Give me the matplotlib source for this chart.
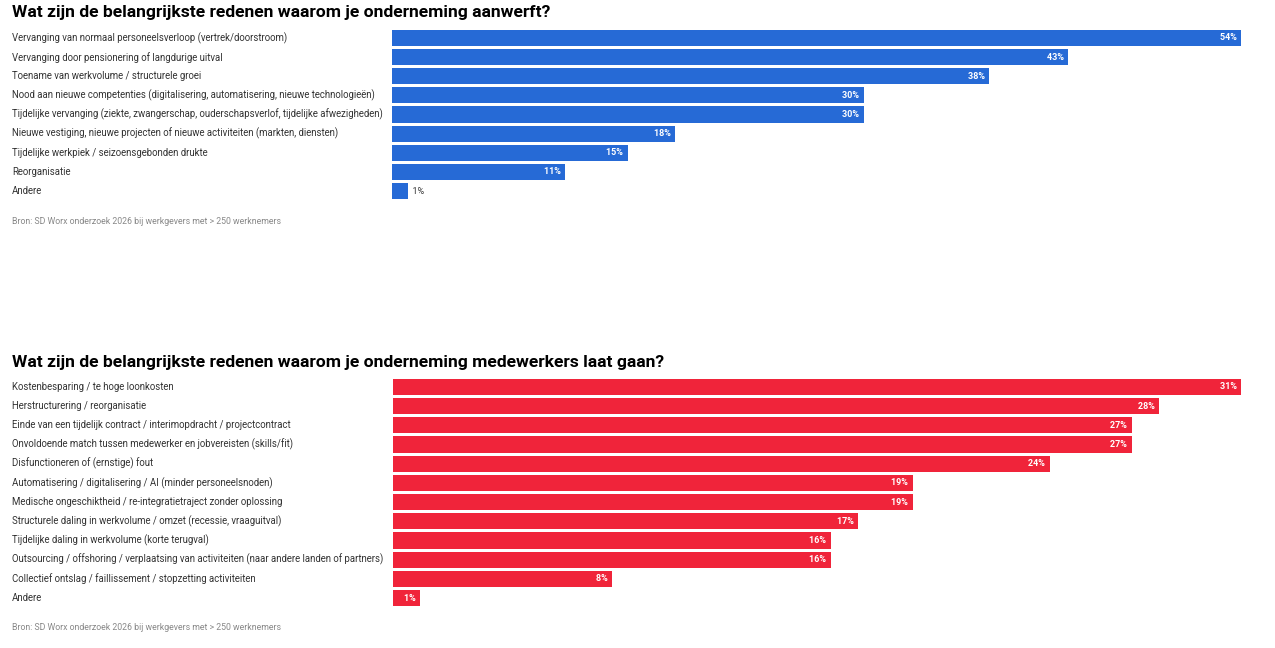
import matplotlib.pyplot as plt
from matplotlib.transforms import blended_transform_factory

# Data
hire_title = "Wat zijn de belangrijkste redenen waarom je onderneming aanwerft?"
hire_labels = [
    "Vervanging van normaal personeelsverloop (vertrek/doorstroom)",
    "Vervanging door pensionering of langdurige uitval",
    "Toename van werkvolume / structurele groei",
    "Nood aan nieuwe competenties (digitalisering, automatisering, nieuwe technologieën)",
    "Tijdelijke vervanging (ziekte, zwangerschap, ouderschapsverlof, tijdelijke afwezigheden)",
    "Nieuwe vestiging, nieuwe projecten of nieuwe activiteiten (markten, diensten)",
    "Tijdelijke werkpiek / seizoensgebonden drukte",
    "Reorganisatie",
    "Andere",
]
hire_values = [54, 43, 38, 30, 30, 18, 15, 11, 1]

fire_title = "Wat zijn de belangrijkste redenen waarom je onderneming medewerkers laat gaan?"
fire_labels = [
    "Kostenbesparing / te hoge loonkosten",
    "Herstructurering / reorganisatie",
    "Einde van een tijdelijk contract / interimopdracht / projectcontract",
    "Onvoldoende match tussen medewerker en jobvereisten (skills/fit)",
    "Disfunctioneren of (ernstige) fout",
    "Automatisering / digitalisering / AI (minder personeelsnoden)",
    "Medische ongeschiktheid / re-integratietraject zonder oplossing",
    "Structurele daling in werkvolume / omzet (recessie, vraaguitval)",
    "Tijdelijke daling in werkvolume (korte terugval)",
    "Outsourcing / offshoring / verplaatsing van activiteiten (naar andere landen of partners)",
    "Collectief ontslag / faillissement / stopzetting activiteiten",
    "Andere",
]
fire_values = [31, 28, 27, 27, 24, 19, 19, 17, 16, 16, 8, 1]

source = "Bron: SD Worx onderzoek 2026 bij werkgevers met > 250 werknemers"

plt.rcParams['font.family'] = ['Roboto', 'DejaVu Sans']

W, H = 1275, 648
fig = plt.figure(figsize=(W / 100, H / 100), dpi=100)


def draw_chart(labels, values, color, title, left_px, top_px, bottom_px, title_y, source_y):
    right_px = 1241
    ax = fig.add_axes([left_px / W, 1 - bottom_px / H,
                       (right_px - left_px) / W, (bottom_px - top_px) / H])
    n = len(values)
    ypos = list(range(n))
    ax.barh(ypos, values, height=0.84, color=color)
    ax.set_xlim(0, max(values))
    ax.set_ylim(n - 0.5, -0.5)
    ax.axis('off')

    px_per_unit = (right_px - left_px) / max(values)
    trans = blended_transform_factory(fig.transFigure, ax.transData)
    for y, lab, v in zip(ypos, labels, values):
        ax.text(12 / W, y, lab, transform=trans, ha='left', va='center',
                fontsize=6.95, color='#333333')
        if v * px_per_unit > 22:
            ax.text(v, y, f"{v}%  ", ha='right', va='center', fontsize=6.5,
                    color='white', fontweight='bold')
        else:
            ax.text(v, y, f"  {v}%", ha='left', va='center', fontsize=6.5,
                    color='#333333')

    fig.text(12 / W, 1 - title_y / H, title, ha='left', va='center',
             fontsize=12.6, fontweight='bold', color='black')
    fig.text(12 / W, 1 - source_y / H, source, ha='left', va='center',
             fontsize=6.3, color='#888888')


draw_chart(hire_labels, hire_values, '#266AD6', hire_title, 392, 28.4, 200.6, 13, 221)
draw_chart(fire_labels, fire_values, '#F0243A', fire_title, 393, 377.4, 607.6, 362, 628)

plt.savefig('out.png', dpi=100)
